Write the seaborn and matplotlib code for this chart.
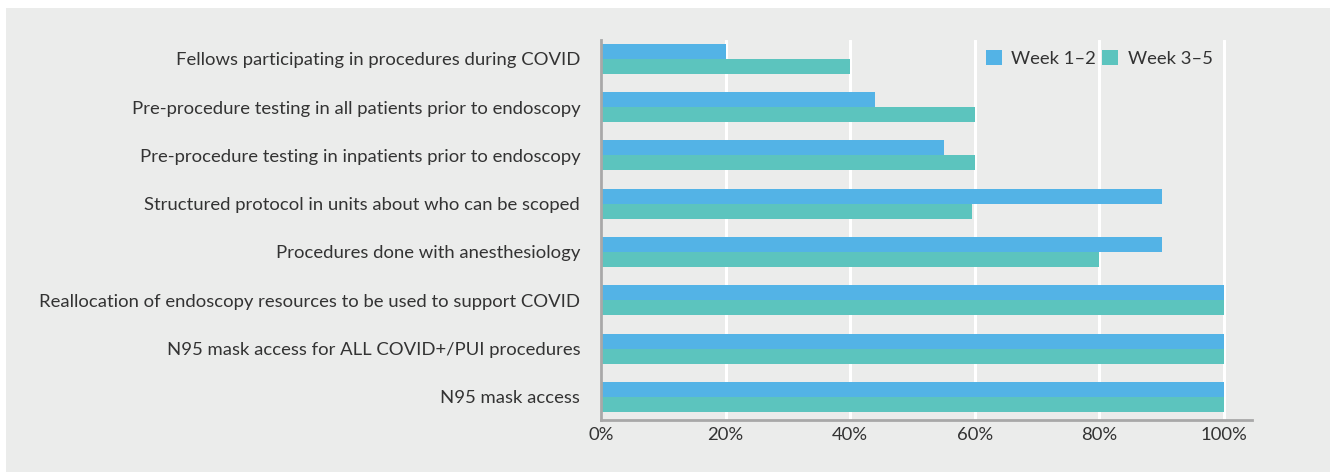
import pandas as pd
import numpy as np
import matplotlib.pyplot as plt
import seaborn as sns
from matplotlib.patches import Rectangle

# Survey items and share of units answering yes (%)
items = [
    "Fellows participating in procedures during COVID",
    "Pre-procedure testing in all patients prior to endoscopy",
    "Pre-procedure testing in inpatients prior to endoscopy",
    "Structured protocol in units about who can be scoped",
    "Procedures done with anesthesiology",
    "Reallocation of endoscopy resources to be used to support COVID",
    "N95 mask access for ALL COVID+/PUI procedures",
    "N95 mask access",
]
week_1_2 = [20, 44, 55, 90, 90, 100, 100, 100]
week_3_5 = [40, 60, 60, 59.6, 80, 100, 100, 100]
periods = ["Week 1\u20132", "Week 3\u20135"]

df = pd.DataFrame({
    "item": items * 2,
    "value": week_1_2 + week_3_5,
    "period": [periods[0]] * len(items) + [periods[1]] * len(items),
})

sns.set_style("white")
plt.rcParams['font.family'] = ['Lato', 'DejaVu Sans']

bg = "#ebeceb"
fs = 13.3
fig = plt.figure(figsize=(13.35, 4.73), dpi=100, facecolor="white")
# grey panel behind everything, with a thin white margin
fig.add_artist(Rectangle((6 / 1335, 1 / 473), 1324 / 1335, 464 / 473,
                         transform=fig.transFigure, facecolor=bg,
                         edgecolor="none", zorder=-10))
ax = fig.add_axes([601 / 1335, 1 - 420 / 473, 651 / 1335, 380 / 473])
ax.set_facecolor(bg)

sns.barplot(data=df, y="item", x="value", hue="period", orient="h",
            palette=["#53b3e6", "#5cc4be"], width=0.62, saturation=1,
            linewidth=0, ax=ax, zorder=3)

ax.set_xlim(0, 104.5)
ax.set_ylim(7.48, -0.39)
ax.set_xticks(np.arange(0, 101, 20))
ax.set_xticklabels([f"{v}%" for v in range(0, 101, 20)])
ax.xaxis.grid(True, color="white", linewidth=2.2, zorder=0)
ax.set_axisbelow(True)
ax.set_xlabel("")
ax.set_ylabel("")
for s in ["top", "right"]:
    ax.spines[s].set_visible(False)
for s in ["left", "bottom"]:
    ax.spines[s].set_color("#a8a8a8")
    ax.spines[s].set_linewidth(2)
    ax.spines[s].set_zorder(4)
ax.tick_params(axis="y", length=0, pad=15, labelsize=fs, labelcolor="#333333")
ax.tick_params(axis="x", length=0, pad=5, labelsize=fs, labelcolor="#333333")

ax.legend(loc="upper right", bbox_to_anchor=(0.965, 1.018), ncol=2, frameon=False,
          fontsize=fs, handlelength=0.9, handleheight=0.9, handletextpad=0.5,
          columnspacing=0.3, labelcolor="#333333")

fig.savefig("out.png", dpi=100, facecolor="white")
